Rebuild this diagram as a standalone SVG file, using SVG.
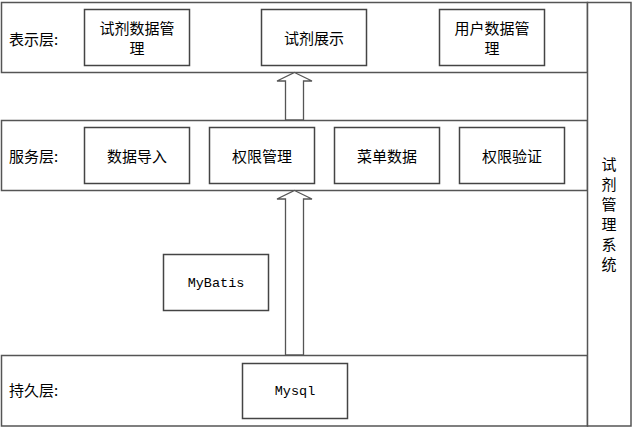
<svg xmlns="http://www.w3.org/2000/svg" width="633" height="428" viewBox="0 0 633 428">
<style>
.layer{fill:#fff;stroke:#555;stroke-width:1.5}
.box{fill:#fff;stroke:#444;stroke-width:1.5}
.arrow{fill:#fff;stroke:#555;stroke-width:1.3}
.t{font-family:"Noto Sans CJK SC","Noto Sans",sans-serif;font-size:15px;fill:#000;dominant-baseline:central}
.m{font-family:"Liberation Mono","DejaVu Sans Mono",monospace;font-size:13.5px;fill:#000;dominant-baseline:central;text-anchor:middle}
.c{text-anchor:middle}
</style>
<rect fill="#fff" width="633" height="428"/>
<g id="layers">
<rect class="layer" x="1.5" y="2.5" width="586" height="70"/>
<rect class="layer" x="1.5" y="120.5" width="586" height="70"/>
<rect class="layer" x="1.5" y="355.5" width="586" height="70.5"/>
</g>
<g id="system">
<rect class="layer" x="587.5" y="2.5" width="43.5" height="423.5"/>
<text class="t c" x="609" y="163">试</text>
<text class="t c" x="609" y="183">剂</text>
<text class="t c" x="609" y="203">管</text>
<text class="t c" x="609" y="223">理</text>
<text class="t c" x="609" y="243">系</text>
<text class="t c" x="609" y="263">统</text>
</g>
<g id="labels">
<text class="t" x="9" y="38">表示层:</text>
<text class="t" x="9" y="155">服务层:</text>
<text class="t" x="9" y="389">持久层:</text>
</g>
<g id="n1"><rect class="box" x="84.5" y="9.5" width="105" height="56"/><text class="t c" x="137" y="27">试剂数据管</text><text class="t c" x="137" y="47">理</text></g>
<g id="n2"><rect class="box" x="261.5" y="9.5" width="105" height="56"/><text class="t c" x="314" y="37">试剂展示</text></g>
<g id="n3"><rect class="box" x="439.5" y="9.5" width="105" height="56"/><text class="t c" x="492" y="27">用户数据管</text><text class="t c" x="492" y="47">理</text></g>
<g id="n4"><rect class="box" x="84.5" y="127.5" width="105" height="56"/><text class="t c" x="137" y="155">数据导入</text></g>
<g id="n5"><rect class="box" x="209.5" y="127.5" width="105" height="56"/><text class="t c" x="262" y="155">权限管理</text></g>
<g id="n6"><rect class="box" x="334.5" y="127.5" width="105" height="56"/><text class="t c" x="387" y="155">菜单数据</text></g>
<g id="n7"><rect class="box" x="459.5" y="127.5" width="105" height="56"/><text class="t c" x="512" y="155">权限验证</text></g>
<g id="n8"><rect class="box" x="163.5" y="254.5" width="105" height="56"/><text class="m" x="216" y="283">MyBatis</text></g>
<g id="n9"><rect class="box" x="242.5" y="363.5" width="105" height="55"/><text class="m" x="295" y="391">Mysql</text></g>
<g id="connectors">
<polygon class="arrow" points="294.5,72.5 312,81 303.5,81 303.5,120 285.5,120 285.5,81 277,81"/>
<polygon class="arrow" points="294.5,190.5 312,199 303.5,199 303.5,355 285.5,355 285.5,199 277,199"/>
</g>
</svg>
